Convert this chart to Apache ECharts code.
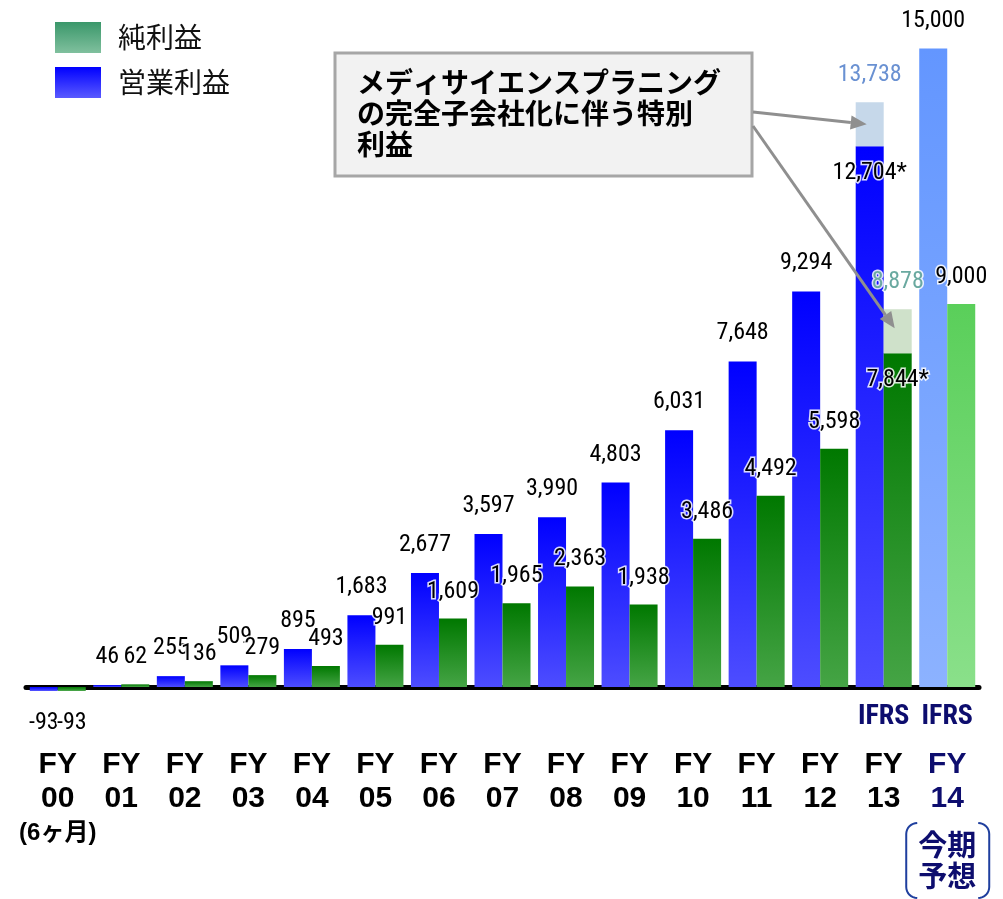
<!DOCTYPE html>
<html>
<head>
<meta charset="utf-8">
<script src="https://cdn.jsdelivr.net/npm/echarts@6/dist/echarts.min.js"></script>
<style>
html,body{margin:0;padding:0;background:#fff;}
#chart{width:1003px;height:899px;}
</style>
</head>
<body>
<div id="chart"></div>
<script>
// ---- data ----
const fiscalYears = ['00','01','02','03','04','05','06','07','08','09','10','11','12','13','14'];
const periodNotes = ['(6ヶ月)','','','','','','','','','','','','','',''];
const standards = ['','','','','','','','','','','','','','IFRS','IFRS'];
const operatingProfit = [-93,46,255,509,895,1683,2677,3597,3990,4803,6031,7648,9294,12704,15000];
const netProfit = [-93,62,136,279,493,991,1609,1965,2363,1938,3486,4492,5598,7844,9000];
const operatingWithGain = [null,null,null,null,null,null,null,null,null,null,null,null,null,13738,null];
const netWithGain = [null,null,null,null,null,null,null,null,null,null,null,null,null,8878,null];
const adjustedIndex = 13;   // value marked with *
const forecastIndex = 14;   // 今期予想
const seriesNames = ['営業利益','純利益'];
const annotationText = 'メディサイエンスプラニング\nの完全子会社化に伴う特別\n利益';
const forecastText = '今期\n予想';

// ---- styles ----
const NUM_FONT = '"Roboto Condensed","DejaVu Sans Condensed",Roboto,sans-serif';
const BOLD_FONT = '"Liberation Sans",Arial,"Noto Sans CJK JP",sans-serif';
const CJK_FONT = '"Noto Sans CJK JP","Noto Sans",sans-serif';
const NAVY = '#0d0d6e';
const grad = (a,b) => new echarts.graphic.LinearGradient(0,0,0,1,[{offset:0,color:a},{offset:1,color:b}]);
const blueGrad = grad('#0000ff','#4d4dff');
const greenGrad = grad('#007800','#45a445');
const blueFcGrad = grad('#6396ff','#8cb2ff');
const greenFcGrad = grad('#5acf5a','#8ae08a');
const fmt = v => Number(v).toLocaleString('en-US');
const BAR_W = 28;

const labelBase = {
  show:true, position:'top', distance:15, fontFamily:NUM_FONT, fontSize:24, color:'#000',
  textBorderColor:'rgba(255,255,255,0.85)', textBorderWidth:3,
  formatter: p => fmt(p.value)
};

function mainData(values, fcGrad) {
  return values.map((v,i) => {
    const item = {value:v};
    if (i === forecastIndex) item.itemStyle = {color: fcGrad};
    if (i === adjustedIndex) item.label = {position:'insideTop', distance:15, formatter: fmt(v)+'*'};
    if (v < 0) item.label = {position:'bottom', distance:20};
    return item;
  });
}
function extraData(withGain, base) {
  return withGain.map((v,i) => v == null ? '-' : {value: v - base[i], total: v});
}

const chart = echarts.init(document.getElementById('chart'));
const option = {
  animation:false,
  backgroundColor:'#fff',
  legend:{
    orient:'vertical', left:55, top:22, itemWidth:46, itemHeight:31, itemGap:14, icon:'rect', padding:0,
    textStyle:{fontFamily:CJK_FONT, fontSize:28, color:'#111', padding:[0,0,0,12]},
    data:[{name:seriesNames[1], itemStyle:{color:grad('#3a976a','#80c09e')}},
          {name:seriesNames[0], itemStyle:{color:grad('#0000ff','#5a5aff')}}]
  },
  grid:{left:26, right:24, top:6, bottom:212, outerBoundsMode:'none', containLabel:false},
  xAxis:{
    type:'category', data:fiscalYears,
    axisLine:{onZero:true, lineStyle:{color:'#000', width:5}},
    axisTick:{show:false},
    axisLabel:{
      interval:0, margin:-1, hideOverlap:false,
      formatter:(val, idx) => {
        const st = idx === forecastIndex ? 'f' : 'a';
        let s = (standards[idx] ? '{i|'+standards[idx]+'}' : '{i| }') + '\n{'+st+'|FY}\n{'+st+'|'+val+'}';
        if (periodNotes[idx]) s += '\n{s|'+periodNotes[idx]+'}';
        return s;
      },
      rich:{
        i:{fontFamily:NUM_FONT, fontWeight:'bold', fontSize:28, color:NAVY, lineHeight:62},
        a:{fontFamily:BOLD_FONT, fontWeight:'bold', fontSize:30, color:'#000', lineHeight:34},
        f:{fontFamily:BOLD_FONT, fontWeight:'bold', fontSize:30, color:NAVY, lineHeight:34},
        s:{fontFamily:BOLD_FONT, fontWeight:'bold', fontSize:24, color:'#000', lineHeight:34}
      }
    }
  },
  yAxis:{type:'value', min:0, max:16000, show:false, splitLine:{show:false}},
  series:[
    {name:seriesNames[0], type:'bar', stack:'op', barWidth:BAR_W, barGap:'0%', clip:false,
     itemStyle:{color:blueGrad}, label:Object.assign({}, labelBase, {distance:16}),
     data: mainData(operatingProfit, blueFcGrad), z:2},
    {name:'op_gain', type:'bar', stack:'op', barWidth:BAR_W, barGap:'0%', clip:false,
     itemStyle:{color:'#c6d8ea'},
     label:Object.assign({}, labelBase, {color:'#6a91d2', formatter:p => fmt(p.data.total)}),
     data: extraData(operatingWithGain, operatingProfit), z:2},
    {name:seriesNames[1], type:'bar', stack:'np', barWidth:BAR_W, barGap:'0%', clip:false,
     itemStyle:{color:greenGrad}, label:labelBase,
     data: mainData(netProfit, greenFcGrad), z:3},
    {name:'np_gain', type:'bar', stack:'np', barWidth:BAR_W, barGap:'0%', clip:false,
     itemStyle:{color:'#cfe1ca'},
     label:Object.assign({}, labelBase, {color:'#6aa9a0', formatter:p => fmt(p.data.total)}),
     data: extraData(netWithGain, netProfit), z:3}
  ]
};
chart.setOption(option);

// ---- annotation box, arrows, forecast bracket ----
const box = {x:335, y:53, w:417, h:123};
function arrow(from, to) {
  const dx = to[0]-from[0], dy = to[1]-from[1];
  const len = Math.hypot(dx,dy), ux = dx/len, uy = dy/len;
  const hl = 16, hw = 7;
  const bx = to[0]-ux*hl, by = to[1]-uy*hl;
  return [
    {type:'line', shape:{x1:from[0], y1:from[1], x2:bx, y2:by}, style:{stroke:'#8f8f8f', lineWidth:3}, z:50},
    {type:'polygon', shape:{points:[to,[bx-uy*hw, by+ux*hw],[bx+uy*hw, by-ux*hw]]}, style:{fill:'#8f8f8f'}, z:50}
  ];
}
function bracket(x, top, bot, r, dir) {
  const pts = [];
  for (let k = 0; k <= 8; k++) { const a = Math.PI/2 * k/8; pts.push([x + dir*(r - r*Math.sin(a)), top + r - r*Math.cos(a)]); }
  for (let k = 0; k <= 8; k++) { const a = Math.PI/2 * k/8; pts.push([x + dir*(r - r*Math.cos(a)), bot - r + r*Math.sin(a)]); }
  return {type:'polyline', shape:{points:pts}, style:{stroke:'#1f3f9e', lineWidth:2, fill:null}, z:41};
}
const opMid = chart.convertToPixel({gridIndex:0}, [adjustedIndex, (operatingProfit[adjustedIndex]+operatingWithGain[adjustedIndex])/2]);
const npMid = chart.convertToPixel({gridIndex:0}, [adjustedIndex, (netProfit[adjustedIndex]+netWithGain[adjustedIndex])/2]);
const tip1 = [opMid[0]-BAR_W/2-3, opMid[1]];
const tip2 = [npMid[0]+BAR_W/2-3, npMid[1]-3];
const fc = chart.convertToPixel({xAxisIndex:0}, forecastIndex);
const bTop = 823, bBot = 898;

chart.setOption({
  graphic:[
    {type:'rect', shape:{x:box.x, y:box.y, width:box.w, height:box.h}, style:{fill:'#f2f2f2', stroke:'#a6a6a6', lineWidth:3}, z:40},
    {type:'text', x:box.x+22, y:box.y+14, style:{text:annotationText, fontFamily:CJK_FONT, fontWeight:'bold', fontSize:28, lineHeight:31, fill:'#000'}, z:41},
    ...arrow([box.x+box.w+1, 112], tip1),
    ...arrow([box.x+box.w+1, 126], tip2),
    {type:'text', x:fc, y:(bTop+bBot)/2, style:{text:forecastText, align:'center', verticalAlign:'middle', fontFamily:CJK_FONT, fontWeight:'bold', fontSize:29, lineHeight:31, fill:NAVY}, z:41},
    bracket(fc-41, bTop, bBot, 11, 1),
    bracket(fc+42, bTop, bBot, 11, -1)
  ]
});
</script>
</body>
</html>
